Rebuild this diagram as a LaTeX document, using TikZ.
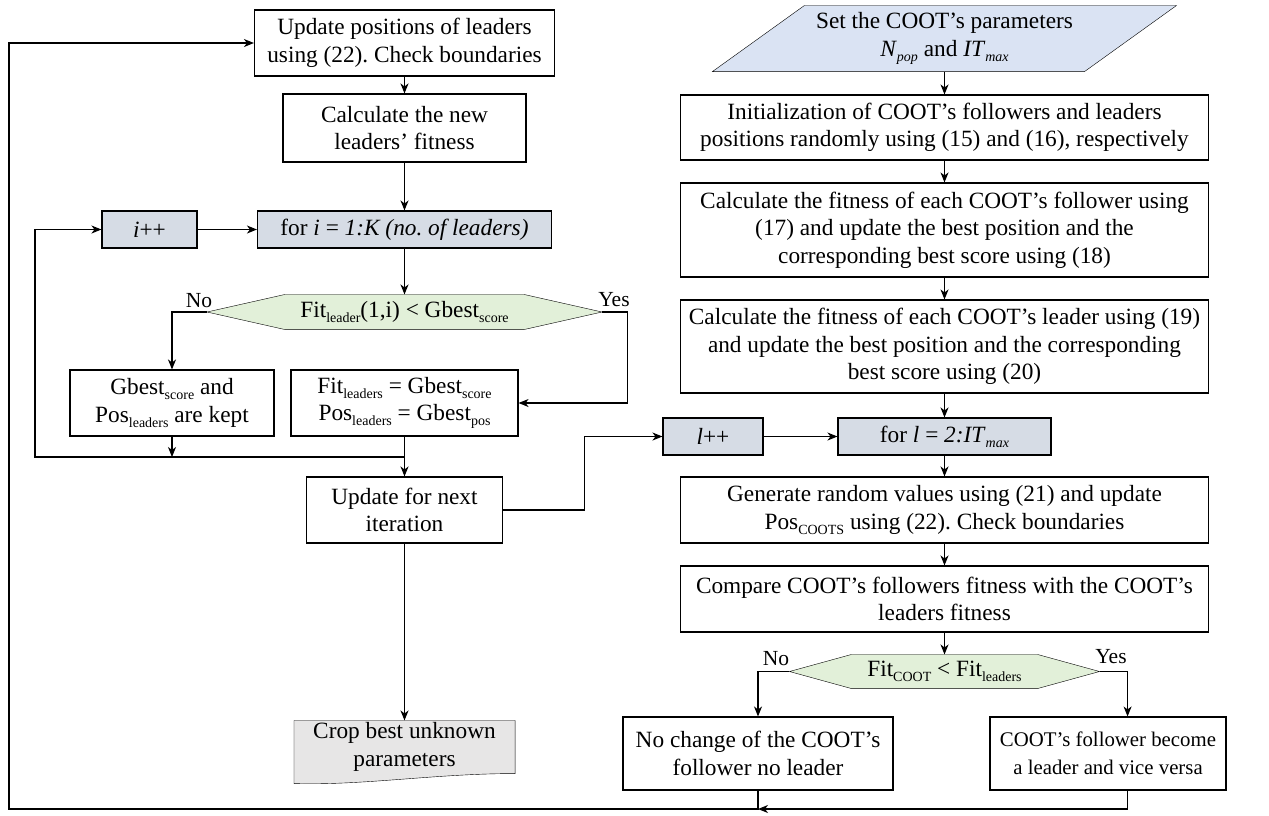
\documentclass[tikz,border=0pt]{standalone}
\usepackage{fontspec}
\setmainfont{Liberation Serif}
\usepackage{tikz}
\usetikzlibrary{arrows.meta, backgrounds}

\definecolor{parblue}{HTML}{DAE3F3}
\definecolor{forgray}{HTML}{D6DCE5}
\definecolor{decgreen}{HTML}{E2F0D9}
\definecolor{cropgray}{HTML}{E7E6E6}
\newcommand{\boxfont}{\fontsize{23.3}{27.5}\selectfont}
\newcommand{\subtxt}[1]{\raisebox{-5pt}{\fontsize{14}{14}\selectfont #1}}
\frenchspacing

\begin{document}
\begin{tikzpicture}[x=1pt, y=-1pt, line width=1.1pt,
    box/.style={draw, fill=white, align=center, inner sep=0pt, font=\boxfont},
    forbox/.style={box, fill=forgray},
    bare/.style={align=center, inner sep=0pt, font=\boxfont},
    lbl/.style={inner sep=0pt, font=\fontsize{21.5}{24}\selectfont},
    arr/.style={-{Stealth[length=10pt, width=8pt, inset=3pt]}}]
    \useasboundingbox (0,0) rectangle (1269,815);

    % left column
    \node[box, minimum width=300pt, minimum height=66pt] (upd) at (404.5,43) {Update positions of leaders\\using (22). Check boundaries};
    \node[box, minimum width=243pt, minimum height=68pt] (calcnew) at (404.5,128) {Calculate the new\\leaders' fitness};
    \node[forbox, minimum width=294pt, minimum height=37pt] (fori) at (404.5,229.5) {for \textit{i} = \textit{1:K (no. of leaders)}};
    \node[forbox, minimum width=95pt, minimum height=37pt] (ipp) at (149.5,229.5) {\textit{i}++};
    \node[bare, minimum width=394pt, minimum height=34pt] (dec1) at (404.5,312) {Fit\subtxt{leader}(1,i) < Gbest\subtxt{score}};
    \node[box, minimum width=204pt, minimum height=66pt] (gbest) at (172,403) {Gbest\subtxt{score} and\\Pos\subtxt{leaders} are kept};
    \node[box, minimum width=227pt, minimum height=66pt] (fitl) at (404.5,403) {Fit\subtxt{leaders} = Gbest\subtxt{score}\\Pos\subtxt{leaders} = Gbest\subtxt{pos}};
    \node[box, minimum width=196pt, minimum height=66pt] (upnext) at (404.5,510) {Update for next\\iteration};
    \node[bare, minimum width=220pt, minimum height=52pt] (crop) at (404.5,747) {Crop best unknown\\parameters};

    % right column
    \node[bare, minimum width=371pt, minimum height=65pt] (set) at (944.5,38.5) {Set the COOT's parameters\\\textit{N}\subtxt{\itshape pop} and \textit{IT}\subtxt{\itshape max}};
    \node[box, minimum width=528pt, minimum height=65pt] (init) at (944.5,127.5) {Initialization of COOT's followers and leaders\\positions randomly using (15) and (16), respectively};
    \node[box, minimum width=528pt, minimum height=94pt] (calcf) at (944.5,230) {Calculate the fitness of each COOT's follower using\\(17) and update the best position and the\\corresponding best score using (18)};
    \node[box, minimum width=528pt, minimum height=93pt] (calcl) at (944.5,346.5) {Calculate the fitness of each COOT's leader using (19)\\and update the best position and the corresponding\\best score using (20)};
    \node[forbox, minimum width=100pt, minimum height=37pt] (lpp) at (713,436.5) {\textit{l}++};
    \node[forbox, minimum width=213pt, minimum height=37pt] (forl) at (944.5,436.5) {for \textit{l} = \textit{2:IT}\subtxt{\itshape max}};
    \node[box, minimum width=528pt, minimum height=66pt] (gen) at (944.5,510) {Generate random values using (21) and update\\Pos\subtxt{COOTS} using (22). Check boundaries};
    \node[box, minimum width=528pt, minimum height=66pt] (comp) at (944.5,599) {Compare COOT's followers fitness with the COOT's\\leaders fitness};
    \node[bare, minimum width=309pt, minimum height=33pt] (dec2) at (944.5,671.5) {Fit\subtxt{COOT} < Fit\subtxt{leaders}};
    \node[box, minimum width=270pt, minimum height=73pt] (nochg) at (758,753.5) {No change of the COOT's\\follower no leader};
    \node[box, minimum width=236pt, minimum height=73pt, font=\fontsize{20.8}{27.5}\selectfont] (coot) at (1108,753.5) {COOT's follower become\\a leader and vice versa};

    \node[lbl] (no1) at (199,301) {No};
    \node[lbl] (yes1) at (614,300) {Yes};
    \node[lbl] (no2) at (776,659) {No};
    \node[lbl] (yes2) at (1111,657) {Yes};

    \begin{scope}[on background layer]
        \filldraw[fill=parblue] ([xshift=46pt]set.north west) -- ([xshift=46pt]set.north east) -- ([xshift=-46pt]set.south east) -- ([xshift=-46pt]set.south west) -- cycle;
        \foreach \d/\s in {dec1/78pt, dec2/62pt} {
            \filldraw[fill=decgreen] (\d.west) -- ([xshift=\s]\d.north west) -- ([xshift=-\s]\d.north east) -- (\d.east) -- ([xshift=-\s]\d.south east) -- ([xshift=\s]\d.south west) -- cycle;
        }
        \filldraw[fill=cropgray] ([yshift=-10pt]crop.south west) -- (crop.north west) -- (crop.north east) -- (crop.south east) .. controls ([xshift=-80pt]crop.south east) and ([shift={(70pt,-12pt)}]crop.south west) .. ([yshift=-10pt]crop.south west);
    \end{scope}

    \foreach \a/\b in {upd/calcnew, calcnew/fori, fori/dec1, upnext/crop, set/init, init/calcf, calcf/calcl, calcl/forl, forl/gen, gen/comp, comp/dec2, fitl/upnext} {
        \draw[arr] (\a.south) -- (\b.north);
    }
    \draw[arr] (ipp.east) -- (fori.west);
    \draw[arr] (lpp.east) -- (forl.west);

    \draw[arr] (dec1.west) -| (gbest.north);
    \draw[arr] (dec1.east) -- ++(25pt,0pt) |- (fitl.east);

    \coordinate (lpl) at (35,457);
    \draw[arr] (gbest.south) -- (gbest.south |- lpl);
    \draw[arr] (fitl.south |- lpl) -- (lpl) |- (ipp.west);
    \draw[arr] (upnext.east) -- ++(81pt,0pt) |- (lpp.west);

    \coordinate (ycor) at ([xshift=28pt]dec2.east);
    \draw[arr] (dec2.west) -| (nochg.north);
    \draw[arr] (dec2.east) -- (ycor) -- (ycor |- coot.north);

    \coordinate (bl) at (9,809);
    \coordinate (jn) at (nochg.south |- bl);
    \draw[arr] (coot.south -| ycor) |- (jn);
    \draw[arr] (nochg.south) -- (jn) -- (bl) |- (upd.west);
\end{tikzpicture}
\end{document}
